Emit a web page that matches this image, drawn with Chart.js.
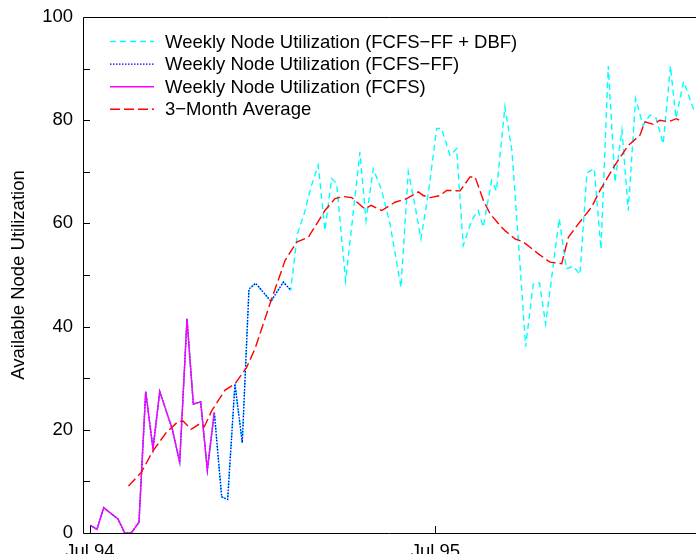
<!DOCTYPE html>
<html>
<head>
<meta charset="utf-8">
<script src="https://cdn.jsdelivr.net/npm/chart.js@4.4.1/dist/chart.umd.min.js"></script>
<style>
  html, body { margin: 0; padding: 0; background: #fff; }
  canvas { display: block; }
</style>
</head>
<body>
<canvas id="util" width="696" height="554"></canvas>
<script>
// x values are weeks counted from the Jul 94 tick
var xTickWeeks = [0, 52];
var xTickLabels = ['Jul 94', 'Jul 95'];

// weeks shared by all three weekly series (FCFS ends here)
var fcfsWeeks = [0.05, 1.05, 2.06, 4.22, 5.23, 6.22, 7.38, 8.39, 9.49, 10.5, 12.4, 13.51, 14.61, 15.56, 16.67, 17.67, 18.72];
var fcfsVals = [1.5, 0.7, 4.9, 2.7, 0, 0, 2.1, 27.4, 16.3, 27.4, 20.1, 13.7, 41.5, 25.0, 25.4, 12.2, 23.4];

// FCFS-FF keeps going after FCFS stops
var ffWeeks = [19.83, 20.73, 21.83, 22.93, 23.94, 24.95, 27.25, 29.11, 30.22];
var ffVals = [7.0, 6.5, 28.9, 17.5, 47.3, 48.4, 44.9, 48.6, 47.1];

// FCFS-FF + DBF keeps going after FCFS-FF stops
var dbfWeeks = [31.24, 32.29, 33.27, 34.37, 35.38, 36.39, 37.14, 38.5, 40.65, 41.56, 42.66, 43.92, 45.18, 46.83,
  47.93, 48.79, 49.84, 50.94, 52.2, 52.95, 54.2, 55.21, 56.2, 57.47, 58.46, 59.22, 60.48, 61.2, 62.48, 63.54,
  64.59, 65.6, 66.74, 67.68, 68.61, 70.66, 71.74, 72.77, 73.77, 74.83, 75.93, 76.94, 78.04, 79.05, 80.1, 81.05,
  82.16, 83.26, 84.31, 85.21, 86.31, 87.4, 88.23, 89.39, 91.09];
var dbfVals = [58, 62, 67, 71.3, 58.6, 68.7, 67.7, 48.9, 73.8, 60.6, 70.6, 66.4, 59.9, 47.6,
  70, 64.5, 57, 65.8, 78.4, 78.4, 73.2, 74.5, 55.7, 60.6, 62.5, 59.3, 68.3, 66.3, 82.6, 74,
  55, 36.1, 48.2, 48.5, 40.5, 60.9, 51.2, 51.7, 50.1, 69.8, 70.6, 55, 90.5, 68.0, 78.1, 62.5,
  84.2, 79.0, 81.0, 80.5, 75.4, 90.5, 80.4, 87.5, 81.4];

var avgWeeks = [5.8, 7.7, 9.49, 11.5, 13.26, 14.01, 15.22, 16.32, 17.22, 18.34, 20.34, 21.83, 23.59, 24.85, 26.35,
  27.25, 28.87, 29.37, 31.13, 32.88, 35.38, 36.89, 38.14, 39.41, 41.41, 42.32, 43.93, 45.93, 47.69, 49.44, 50.19,
  51.2, 52.7, 53.71, 55.72, 57.22, 57.98, 59.22, 60.23, 61.74, 62.49, 63.99, 65.25, 67.51, 69.27, 71.03, 72.03,
  73.53, 75.55, 76.8, 79.05, 81.05, 82.81, 83.56, 84.82, 85.82, 87.07, 88.33, 88.98];
var avgVals = [9.1, 11.7, 15.9, 19.5, 21.6, 21.7, 20.1, 21.0, 20.6, 23.7, 27.7, 28.9, 32.1, 35.7, 41.5,
  45, 50.9, 52.8, 56.4, 57.3, 62.5, 64.8, 65.2, 65, 62.8, 63.5, 62.5, 64.1, 64.8, 66.1, 65.4,
  65, 65.4, 66.4, 66.3, 69, 69, 64.5, 61.9, 59.6, 58.6, 57, 56.4, 54.1, 52.5, 52.2, 57.3,
  59.9, 63.2, 66.4, 71.3, 75.1, 77.1, 79.7, 79.2, 80, 79.7, 80.3, 79.8];

var FONT = "'Liberation Sans', Arial, Helvetica, sans-serif";
var FSIZE = 18.5;
Chart.defaults.font.family = FONT;
Chart.defaults.color = '#000';

function pts(ws, vs) {
  return ws.map(function (w, i) { return { x: w, y: vs[i] }; });
}

var ffWeeksAll = fcfsWeeks.concat(ffWeeks);
var ffValsAll = fcfsVals.concat(ffVals);

function line(label, data, color, dash, order) {
  return {
    label: label, data: data, borderColor: color, backgroundColor: color,
    borderWidth: 1.4, borderDash: dash, pointRadius: 0, tension: 0, fill: false, order: order,
  };
}

// boxed frame with inward tick marks, gnuplot style
var frame = {
  id: 'frame',
  afterDraw: function (chart) {
    var a = chart.chartArea, ctx = chart.ctx;
    var xs = chart.scales.x, ys = chart.scales.y;
    ctx.save();
    ctx.strokeStyle = '#000';
    ctx.lineWidth = 1;
    ctx.setLineDash([]);
    ctx.beginPath();
    ctx.moveTo(a.right, a.top + 0.5);
    ctx.lineTo(a.left + 0.5, a.top + 0.5);
    ctx.lineTo(a.left + 0.5, a.bottom + 0.5);
    ctx.lineTo(a.right, a.bottom + 0.5);
    for (var v = 10; v < 100; v += 10) {
      var yp = Math.round(ys.getPixelForValue(v)) + 0.5;
      ctx.moveTo(a.left, yp);
      ctx.lineTo(a.left + 7, yp);
    }
    xTickWeeks.forEach(function (w) {
      var xp = Math.round(xs.getPixelForValue(w)) + 0.5;
      ctx.moveTo(xp, a.bottom);
      ctx.lineTo(xp, a.bottom - 7);
    });
    ctx.stroke();
    ctx.restore();
  },
};

var keyBox = {
  id: 'keyBox',
  afterDraw: function (chart) {
    var ctx = chart.ctx;
    ctx.save();
    ctx.font = FSIZE + 'px ' + FONT;
    ctx.textBaseline = 'middle';
    ctx.fillStyle = '#000';
    chart.data.datasets.forEach(function (ds, i) {
      var y = 41.5 + i * 22.6;
      ctx.strokeStyle = ds.borderColor;
      ctx.lineWidth = 1.4;
      ctx.setLineDash(ds.borderDash || []);
      ctx.beginPath();
      ctx.moveTo(110, y);
      ctx.lineTo(154, y);
      ctx.stroke();
      ctx.fillText(ds.label, 165, y + 1);
    });
    ctx.restore();
  },
};

new Chart(document.getElementById('util'), {
  type: 'line',
  data: {
    datasets: [
      line('Weekly Node Utilization (FCFS\u2212FF + DBF)', pts(ffWeeksAll.concat(dbfWeeks), ffValsAll.concat(dbfVals)), '#00ffff', [6, 4], 4),
      line('Weekly Node Utilization (FCFS\u2212FF)', pts(ffWeeksAll, ffValsAll), '#0000ff', [1.5, 1.5], 3),
      line('Weekly Node Utilization (FCFS)', pts(fcfsWeeks, fcfsVals), '#ff00ff', [], 2),
      line('3\u2212Month Average', pts(avgWeeks, avgVals), '#ff0000', [10, 4], 1),
    ],
  },
  options: {
    responsive: false,
    animation: false,
    devicePixelRatio: 1,
    layout: { autoPadding: false, padding: { top: 17, right: 0, bottom: 0, left: 0 } },
    plugins: { legend: { display: false }, tooltip: { enabled: false } },
    scales: {
      x: {
        type: 'linear',
        min: -1.05,
        max: 91.25,
        grid: { display: false },
        border: { display: false },
        afterBuildTicks: function (s) {
          s.ticks = xTickWeeks.map(function (w) { return { value: w }; });
        },
        afterFit: function (s) { s.height = 21; },
        ticks: {
          autoSkip: false,
          maxRotation: 0,
          padding: 0,
          font: { size: FSIZE },
          callback: function (v) { return xTickLabels[xTickWeeks.indexOf(v)]; },
        },
      },
      y: {
        min: 0,
        max: 100,
        grid: { display: false },
        border: { display: false },
        afterFit: function (s) { s.width = 83; },
        ticks: { stepSize: 20, padding: 2, font: { size: FSIZE } },
        title: {
          display: true,
          text: 'Available Node Utilization',
          font: { size: FSIZE },
          padding: { top: 8, bottom: 0 },
        },
      },
    },
  },
  plugins: [frame, keyBox],
});
</script>
</body>
</html>
